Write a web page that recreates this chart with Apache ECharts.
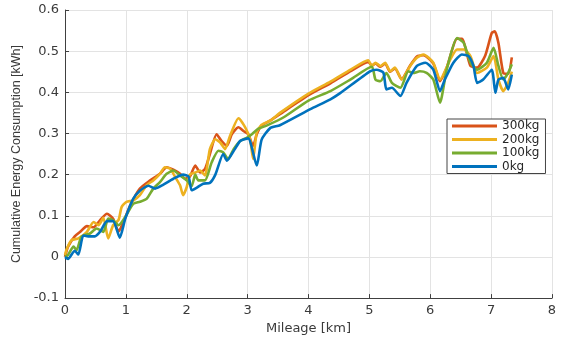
<!DOCTYPE html>
<html>
<head>
<meta charset="utf-8">
<script src="https://cdn.jsdelivr.net/npm/echarts@6/dist/echarts.min.js"></script>
<style>
html,body{margin:0;padding:0;background:#fff;}
#chart{width:566px;height:340px;}
</style>
</head>
<body>
<div id="chart"></div>
<script>
// ---- Data ----
const seriesNames = ['300kg', '200kg', '100kg', '0kg'];
const xTicks = [0, 1, 2, 3, 4, 5, 6, 7, 8];
const yTicks = [-0.1, 0, 0.1, 0.2, 0.3, 0.4, 0.5, 0.6];

const km300 = [0, 0.05, 0.16, 0.25, 0.36, 0.47, 0.58, 0.69, 0.79, 0.88, 0.96, 1.07, 1.23, 1.40, 1.56, 1.67, 1.78, 1.89, 1.97, 2.05, 2.14, 2.22, 2.30, 2.38, 2.49, 2.57, 2.66, 2.74, 2.85, 2.93, 3.01, 3.09, 3.15, 3.23, 3.37, 3.53, 4.00, 4.36, 4.70, 4.98, 5.04, 5.10, 5.18, 5.26, 5.34, 5.42, 5.53, 5.67, 5.78, 5.89, 6.05, 6.16, 6.27, 6.44, 6.52, 6.66, 6.77, 6.90, 7.01, 7.06, 7.12, 7.20, 7.28, 7.34];
const kwh300 = [0, 0.025, 0.05, 0.061, 0.075, 0.072, 0.09, 0.105, 0.093, 0.062, 0.085, 0.125, 0.166, 0.186, 0.202, 0.218, 0.212, 0.202, 0.19, 0.195, 0.222, 0.205, 0.214, 0.25, 0.298, 0.282, 0.27, 0.298, 0.315, 0.306, 0.298, 0.27, 0.298, 0.319, 0.331, 0.347, 0.393, 0.422, 0.452, 0.474, 0.465, 0.47, 0.462, 0.47, 0.45, 0.458, 0.432, 0.465, 0.487, 0.49, 0.47, 0.427, 0.46, 0.53, 0.53, 0.464, 0.46, 0.488, 0.544, 0.548, 0.52, 0.447, 0.445, 0.485];

const km200 = [0, 0.03, 0.11, 0.22, 0.36, 0.47, 0.55, 0.63, 0.71, 0.79, 0.88, 0.93, 1.01, 1.12, 1.23, 1.34, 1.45, 1.56, 1.64, 1.73, 1.81, 1.89, 1.94, 2.00, 2.05, 2.14, 2.22, 2.30, 2.38, 2.47, 2.55, 2.63, 2.71, 2.85, 2.96, 3.04, 3.09, 3.15, 3.23, 3.37, 3.53, 4.00, 4.36, 4.70, 4.98, 5.04, 5.10, 5.18, 5.26, 5.34, 5.42, 5.53, 5.67, 5.78, 5.89, 6.05, 6.16, 6.33, 6.44, 6.55, 6.66, 6.77, 6.93, 7.04, 7.12, 7.20, 7.28, 7.34];
const kwh200 = [0.005, 0.02, 0.041, 0.045, 0.061, 0.085, 0.077, 0.095, 0.045, 0.077, 0.09, 0.121, 0.134, 0.137, 0.15, 0.174, 0.186, 0.202, 0.218, 0.214, 0.194, 0.174, 0.15, 0.17, 0.2, 0.205, 0.21, 0.198, 0.262, 0.286, 0.278, 0.262, 0.294, 0.337, 0.315, 0.286, 0.238, 0.303, 0.321, 0.331, 0.35, 0.397, 0.426, 0.456, 0.478, 0.464, 0.472, 0.464, 0.472, 0.451, 0.46, 0.431, 0.464, 0.484, 0.492, 0.472, 0.431, 0.48, 0.504, 0.504, 0.488, 0.447, 0.46, 0.488, 0.431, 0.403, 0.423, 0.45];

const km100 = [0, 0.05, 0.14, 0.19, 0.27, 0.41, 0.52, 0.63, 0.71, 0.79, 0.88, 0.99, 1.12, 1.23, 1.34, 1.45, 1.56, 1.67, 1.78, 1.89, 2.00, 2.08, 2.14, 2.19, 2.30, 2.41, 2.52, 2.60, 2.68, 2.77, 2.88, 2.99, 3.07, 3.17, 3.31, 3.60, 4.00, 4.36, 4.70, 5.04, 5.10, 5.18, 5.28, 5.37, 5.51, 5.64, 5.72, 5.83, 5.94, 6.05, 6.16, 6.27, 6.44, 6.55, 6.66, 6.77, 6.93, 7.04, 7.12, 7.20, 7.28, 7.34];
const kwh100 = [0, 0.005, 0.025, 0.017, 0.049, 0.057, 0.069, 0.061, 0.093, 0.089, 0.077, 0.097, 0.129, 0.134, 0.141, 0.166, 0.182, 0.202, 0.21, 0.198, 0.186, 0.172, 0.2, 0.186, 0.186, 0.23, 0.258, 0.254, 0.238, 0.262, 0.282, 0.29, 0.298, 0.311, 0.319, 0.34, 0.38, 0.403, 0.432, 0.462, 0.431, 0.427, 0.447, 0.423, 0.411, 0.451, 0.447, 0.451, 0.447, 0.431, 0.375, 0.455, 0.532, 0.52, 0.472, 0.455, 0.472, 0.508, 0.464, 0.431, 0.447, 0.468];

const km0 = [0, 0.05, 0.16, 0.22, 0.30, 0.38, 0.49, 0.58, 0.69, 0.79, 0.90, 0.99, 1.12, 1.23, 1.37, 1.48, 1.61, 1.78, 1.94, 2.03, 2.08, 2.16, 2.27, 2.38, 2.47, 2.60, 2.66, 2.79, 2.88, 3.01, 3.15, 3.23, 3.37, 3.53, 4.03, 4.36, 4.52, 5.01, 5.12, 5.23, 5.28, 5.37, 5.51, 5.61, 5.78, 5.92, 6.05, 6.16, 6.24, 6.38, 6.52, 6.63, 6.71, 6.77, 6.87, 7.01, 7.07, 7.12, 7.20, 7.28, 7.34];
const kwh0 = [0, -0.005, 0.015, 0.006, 0.052, 0.05, 0.05, 0.062, 0.087, 0.087, 0.047, 0.093, 0.141, 0.161, 0.173, 0.166, 0.175, 0.19, 0.2, 0.195, 0.162, 0.168, 0.178, 0.18, 0.2, 0.25, 0.234, 0.262, 0.282, 0.288, 0.222, 0.285, 0.313, 0.32, 0.359, 0.383, 0.398, 0.451, 0.455, 0.448, 0.407, 0.411, 0.391, 0.423, 0.464, 0.472, 0.455, 0.403, 0.431, 0.472, 0.492, 0.488, 0.464, 0.423, 0.431, 0.455, 0.399, 0.431, 0.435, 0.407, 0.443];

const colors = ['#D95319', '#EDB120', '#77AC30', '#0072BD'];
const xs = [km300, km200, km100, km0];
const ys = [kwh300, kwh200, kwh100, kwh0];

const chart = echarts.init(document.getElementById('chart'), null, {renderer: 'canvas'});
const txt = '#3a3a3a';
const option = {
  animation: false,
  backgroundColor: '#fff',
  grid: {left: 65, right: 14, top: 10, bottom: 40, containLabel: false},
  xAxis: {
    type: 'value', min: xTicks[0], max: xTicks[xTicks.length - 1], interval: 1,
    name: 'Mileage [km]', nameLocation: 'middle', nameGap: 21,
    nameTextStyle: {fontFamily: 'DejaVu Sans', fontSize: 13, color: txt},
    axisLine: {show: true, onZero: false, lineStyle: {color: '#404040', width: 1}},
    axisTick: {show: true, inside: true, length: 4, lineStyle: {color: '#404040'}},
    axisLabel: {fontFamily: 'DejaVu Sans', fontSize: 13, color: txt, margin: 6},
    splitLine: {show: true, lineStyle: {color: '#e3e3e3', width: 1}}
  },
  yAxis: {
    type: 'value', min: yTicks[0], max: yTicks[yTicks.length - 1], interval: 0.1,
    name: 'Cumulative Energy Consumption [kWh]', nameLocation: 'middle', nameGap: 38,
    nameTextStyle: {fontFamily: 'Liberation Sans', fontSize: 12.5, color: txt},
    axisLine: {show: true, onZero: false, lineStyle: {color: '#404040', width: 1}},
    axisTick: {show: true, inside: true, length: 4, lineStyle: {color: '#404040'}},
    axisLabel: {fontFamily: 'DejaVu Sans', fontSize: 13, color: txt, margin: 6,
      formatter: v => Math.abs(v) < 1e-9 ? '0' : v.toFixed(1)},
    splitLine: {show: true, lineStyle: {color: '#e3e3e3', width: 1}}
  },
  legend: {
    show: true, orient: 'vertical', left: 447, top: 119,
    data: seriesNames,
    icon: 'rect', itemWidth: 45, itemHeight: 3, itemGap: 1.5,
    padding: [1, 6, 1, 5],
    backgroundColor: '#fff', borderColor: '#444', borderWidth: 1,
    textStyle: {fontFamily: 'DejaVu Sans', fontSize: 12, color: '#262626'}
  },
  series: seriesNames.map((n, i) => ({
    name: n, type: 'line', showSymbol: false, symbol: 'none', smooth: 0.2,
    color: colors[i],
    lineStyle: {width: 2.6, color: colors[i]},
    data: xs[i].map((x, j) => [x, ys[i][j]])
  }))
};
chart.setOption(option);
</script>
</body>
</html>
